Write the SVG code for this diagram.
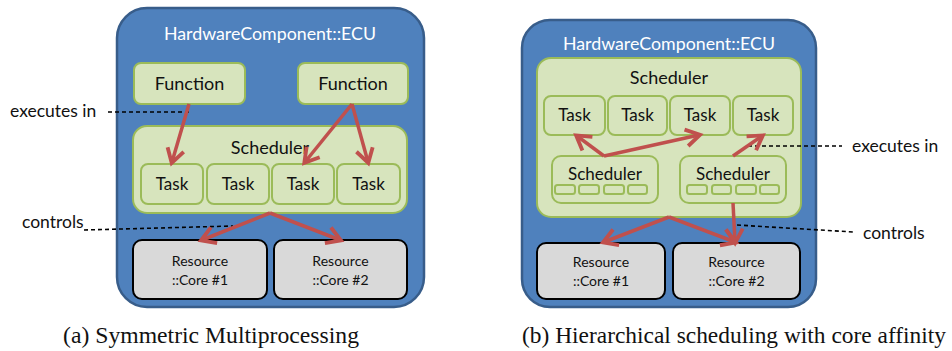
<svg xmlns="http://www.w3.org/2000/svg" width="952" height="351" viewBox="0 0 952 351">
<style>
.ecu{fill:#4f81bd;stroke:#385d8a;stroke-width:2.5}
.g{fill:#d7e4bd;stroke:#9bbb59;stroke-width:2}
.res{fill:#d9d9d9;stroke:#000;stroke-width:2}
.t{font-family:Lato,"Open Sans",sans-serif;fill:#111;text-anchor:middle}
.title{font-family:Lato,"Open Sans",sans-serif;fill:#fff;text-anchor:middle;font-size:17.8px}
.lbl{font-family:Lato,"Open Sans",sans-serif;fill:#111;font-size:17.5px}
.cap{font-family:"Liberation Serif",serif;fill:#111;font-size:23px}
.arr{stroke:#c0504d;stroke-width:3.5;fill:none;marker-end:url(#ah)}
.dash{stroke:#000;stroke-width:1.6;stroke-dasharray:4 3;fill:none}
</style>
<defs>
<marker id="ah" markerWidth="6" markerHeight="6" refX="4.3" refY="3" orient="auto" markerUnits="strokeWidth" viewBox="0 0 6 6">
<path d="M0.6,0.6 L4.6,3 L0.6,5.4" fill="none" stroke="#c0504d" stroke-width="1.1"/>
</marker>
</defs>

<!-- Panel (a) -->
<g id="ecuA">
<rect class="ecu" x="117" y="8" width="307" height="299" rx="30"/>
<text class="title" x="270" y="40">HardwareComponent::ECU</text>
</g>
<g id="funcA1"><rect class="g" x="134" y="63" width="111" height="41" rx="7"/><text class="t" x="189.5" y="90" font-size="18">Function</text></g>
<g id="funcA2"><rect class="g" x="298" y="63" width="110" height="41" rx="7"/><text class="t" x="353" y="90" font-size="18">Function</text></g>
<g id="schedA"><rect class="g" x="133" y="126" width="274" height="87" rx="14"/><text class="t" x="270" y="154" font-size="18">Scheduler</text></g>
<g id="taskA1"><rect class="g" x="141" y="164" width="62" height="40" rx="7"/><text class="t" x="172" y="190" font-size="17">Task</text></g>
<g id="taskA2"><rect class="g" x="207" y="164" width="62" height="40" rx="7"/><text class="t" x="238" y="190" font-size="17">Task</text></g>
<g id="taskA3"><rect class="g" x="272" y="164" width="62" height="40" rx="7"/><text class="t" x="303" y="190" font-size="17">Task</text></g>
<g id="taskA4"><rect class="g" x="337" y="164" width="63" height="40" rx="7"/><text class="t" x="368.5" y="190" font-size="17">Task</text></g>
<g id="resA1"><rect class="res" x="133" y="240" width="134" height="59" rx="9"/><text class="t" x="200" y="266" font-size="14">Resource</text><text class="t" x="200" y="285" font-size="14">::Core #1</text></g>
<g id="resA2"><rect class="res" x="274" y="240" width="133" height="59" rx="9"/><text class="t" x="340.5" y="266" font-size="14">Resource</text><text class="t" x="340.5" y="285" font-size="14">::Core #2</text></g>
<g id="labelsA">
<text class="lbl" x="10" y="117">executes in</text>
<text class="lbl" x="22" y="228">controls</text>
<text class="cap" x="63" y="343" textLength="296" lengthAdjust="spacingAndGlyphs">(a) Symmetric Multiprocessing</text>
</g>

<!-- Panel (b) -->
<g id="ecuB">
<rect class="ecu" x="522" y="20" width="294" height="287" rx="28"/>
<text class="title" x="669" y="50">HardwareComponent::ECU</text>
</g>
<g id="schedB"><rect class="g" x="537" y="58" width="264" height="159" rx="14"/><text class="t" x="669" y="84" font-size="18">Scheduler</text></g>
<g id="taskB1"><rect class="g" x="544" y="96" width="61" height="39" rx="7"/><text class="t" x="574.5" y="121" font-size="17">Task</text></g>
<g id="taskB2"><rect class="g" x="608" y="96" width="59" height="39" rx="7"/><text class="t" x="637.5" y="121" font-size="17">Task</text></g>
<g id="taskB3"><rect class="g" x="670" y="96" width="60" height="39" rx="7"/><text class="t" x="700" y="121" font-size="17">Task</text></g>
<g id="taskB4"><rect class="g" x="733" y="96" width="60" height="39" rx="7"/><text class="t" x="763" y="121" font-size="17">Task</text></g>
<g id="subSchedB1"><rect class="g" x="552" y="156" width="106" height="47" rx="9"/><text class="t" x="605" y="180" font-size="17">Scheduler</text>
<rect class="g" x="555" y="185" width="20" height="9" rx="2.5"/><rect class="g" x="579" y="185" width="20" height="9" rx="2.5"/><rect class="g" x="604" y="185" width="20" height="9" rx="2.5"/><rect class="g" x="628" y="185" width="19" height="9" rx="2.5"/></g>
<g id="subSchedB2"><rect class="g" x="680" y="156" width="106" height="47" rx="9"/><text class="t" x="733" y="180" font-size="17">Scheduler</text>
<rect class="g" x="687" y="185" width="20" height="9" rx="2.5"/><rect class="g" x="712" y="185" width="19" height="9" rx="2.5"/><rect class="g" x="736" y="185" width="20" height="9" rx="2.5"/><rect class="g" x="760" y="185" width="19" height="9" rx="2.5"/></g>
<g id="resB1"><rect class="res" x="537" y="243" width="128" height="56" rx="9"/><text class="t" x="601" y="267" font-size="14">Resource</text><text class="t" x="601" y="286" font-size="14">::Core #1</text></g>
<g id="resB2"><rect class="res" x="673" y="243" width="127" height="56" rx="9"/><text class="t" x="736.5" y="267" font-size="14">Resource</text><text class="t" x="736.5" y="286" font-size="14">::Core #2</text></g>
<g id="labelsB">
<text class="lbl" x="852" y="152">executes in</text>
<text class="lbl" x="863" y="239">controls</text>
<text class="cap" x="522" y="343" textLength="424" lengthAdjust="spacingAndGlyphs">(b) Hierarchical scheduling with core affinity</text>
</g>

<g id="connectors">
<path class="dash" d="M108,112 L189,112"/>
<path class="dash" d="M84,230 L233,226"/>
<path class="arr" d="M189,104 L172,162"/>
<path class="arr" d="M352,104 L305,162"/>
<path class="arr" d="M352,104 L368,162"/>
<path class="arr" d="M270,213 L202,240"/>
<path class="arr" d="M270,213 L340,240"/>
<path class="dash" d="M748,146 L842,146"/>
<path class="dash" d="M737,225 L853,232"/>
<path class="arr" d="M604,156 L577,136"/>
<path class="arr" d="M604,156 L699,135"/>
<path class="arr" d="M733,156 L762,136"/>
<path class="arr" d="M733,203 L735,242"/>
<path class="arr" d="M669,217 L604,242"/>
<path class="arr" d="M669,217 L735,242"/>
</g>
</svg>
